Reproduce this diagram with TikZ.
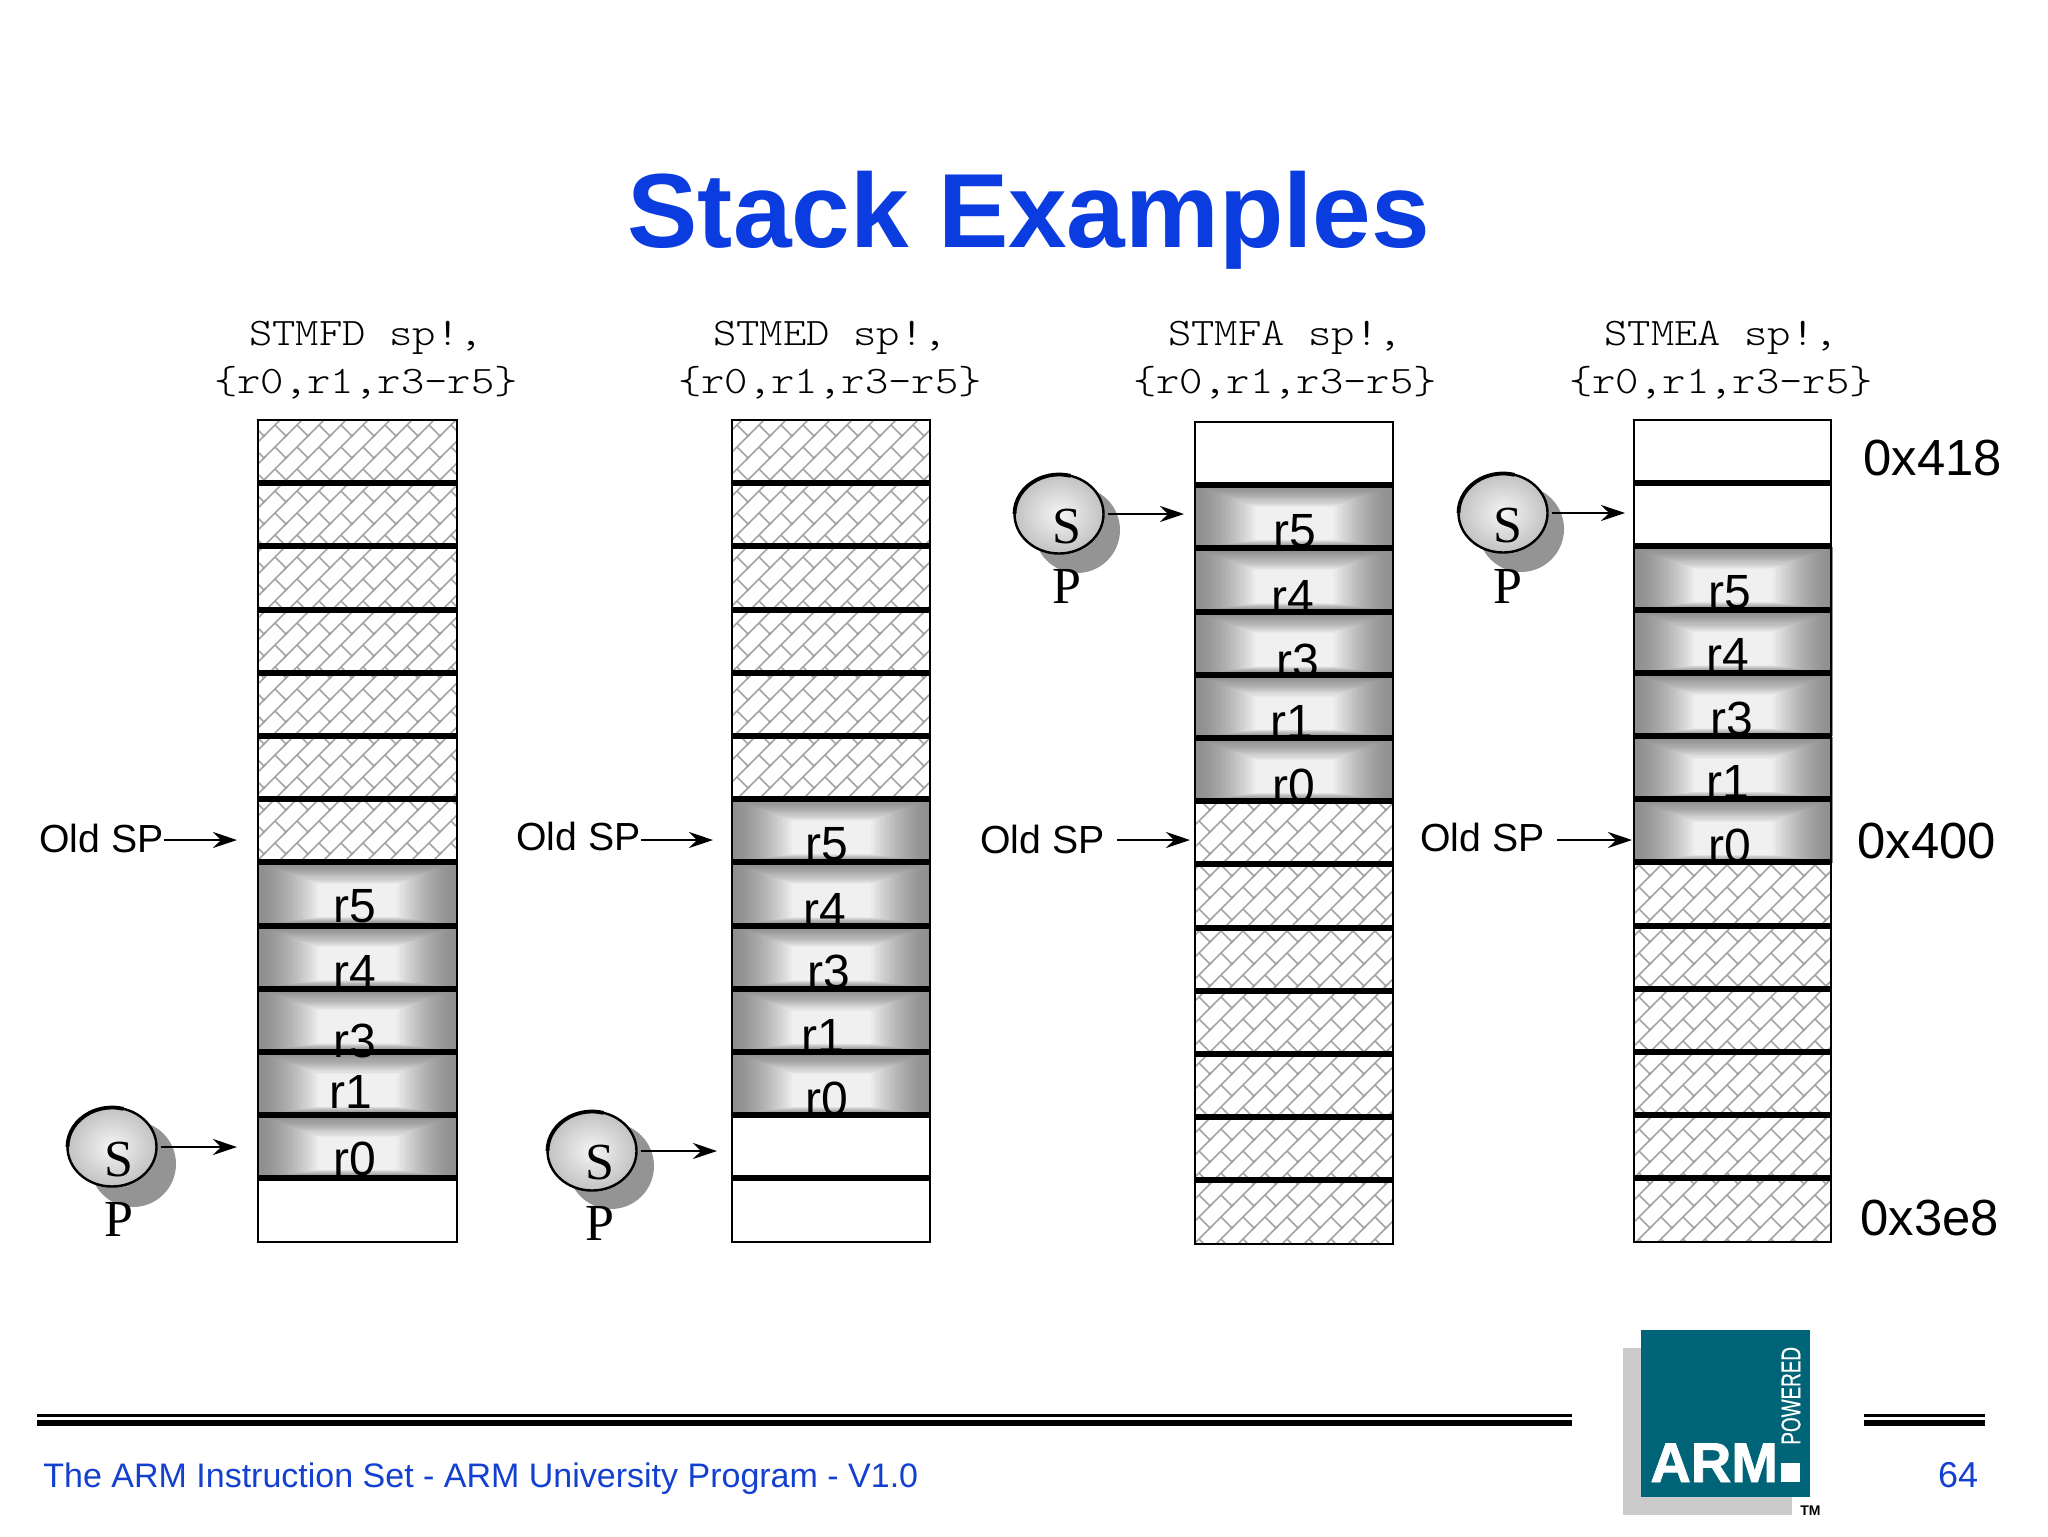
\documentclass[tikz,border=0pt]{standalone}
\usepackage{fontspec}
\setmainfont{Liberation Sans}
\setmonofont[FakeStretch=1.14]{Latin Modern Mono Light}
\newfontfamily\serifletter{Liberation Serif}
\usetikzlibrary{arrows.meta,patterns,shapes.geometric}
\definecolor{slideblue}{HTML}{0A3CE0}
\definecolor{footblue}{HTML}{1440D0}
\definecolor{armteal}{HTML}{006478}
\definecolor{armgray}{HTML}{CBCBCB}

\pgfdeclarepatternformonly{brickhatch}{\pgfpoint{-1pt}{-1pt}}{\pgfpoint{12pt}{12pt}}{\pgfpoint{11pt}{11pt}}{
    \pgfsetlinewidth{0.8pt}
    \pgfpathmoveto{\pgfpoint{-1pt}{-1pt}}
    \pgfpathlineto{\pgfpoint{12pt}{12pt}}
    \pgfpathmoveto{\pgfpoint{11pt}{0pt}}
    \pgfpathlineto{\pgfpoint{5.5pt}{5.5pt}}
    \pgfusepath{stroke}
}

\tikzset{
    hatchcell/.style={pattern=brickhatch, pattern color=black!36},
    frameline/.style={black, line width=1.4pt},
    sepline/.style={black, line width=3pt},
    ptrarrow/.style={->, line width=1pt, shorten <=2pt},
    ball/.style={ellipse, draw, line width=1.2pt, inner sep=0, outer sep=0,
        shade, inner color=black!4, outer color=black!24},
    ballrim/.style={line width=1.9pt},
    ballshadow/.style={fill=black!42},
    ltr/.style={inner sep=0, anchor=base, font=\serifletter\fontsize{26}{26}\selectfont},
    regname/.style={inner sep=0, anchor=base, font=\fontsize{24}{24}\selectfont},
    opcode/.style={inner sep=0, anchor=base, font=\ttfamily\fontsize{19.5}{20}\selectfont},
    oldsp/.style={inner sep=0, anchor=base west, font=\fontsize{19.6}{20}\selectfont},
    addr/.style={inner sep=0, anchor=base west, font=\fontsize{25.4}{26}\selectfont},
    foot/.style={inner sep=0, footblue, font=\fontsize{18}{20}\selectfont},
}

\newcommand{\regcell}[2]{%
    \foreach \k in {0,...,20}{%
        \pgfmathsetmacro{\shd}{44-38*(\k/20)^1.5}
        \fill[black!\shd] ({#1+3*\k},{#2+1.1*\k}) rectangle ({#1+199-3*\k},{#2+63-0.4*\k});
    }%
}

\begin{document}
\begin{tikzpicture}[x=0.5pt, y=-0.5pt, >={Stealth[length=12pt,width=8pt,inset=4pt]}]
    \useasboundingbox (0,0) rectangle (2048,1536);

    \node[inner sep=0, anchor=base, slideblue, font=\bfseries\fontsize{52.7}{56}\selectfont] (title) at (1029,247) {Stack Examples};

    % opcodes above the stacks
    \foreach \n/\cx/\opname in {1/364/STMFD, 2/828/STMED, 3/1283/STMFA, 4/1719/STMEA} {
        \node[opcode] (opa\n) at (\cx+2,345) {\opname{} sp!,};
        \node[opcode] (opb\n) at (\cx+2,393) {\{r0,r1,r3-r5\}};
    }

    % cell fills
    \path[hatchcell] (258,420) rectangle (457,862);
    \path[hatchcell] (732,420) rectangle (930,799);
    \path[hatchcell] (1195,801) rectangle (1393,1243);
    \path[hatchcell] (1634,862) rectangle (1831,1241);
    \foreach \cx/\cy in {258/862, 732/799, 1195/485, 1634/547} {
        \foreach \i in {0,...,4} {
            \regcell{\cx}{\cy+63.2*\i}
        }
    }

    % frames and separators
    \foreach \cx/\cy/\cw in {258/420/199, 732/420/198, 1195/422/198, 1634/420/197} {
        \draw[frameline] (\cx,\cy) rectangle (\cx+\cw,\cy+822);
        \foreach \i in {1,...,12} {
            \draw[sepline] (\cx,\cy+63.2*\i) -- (\cx+\cw,\cy+63.2*\i);
        }
    }

    % register names
    \node[regname] (ra5) at (355,922) {r5};
    \node[regname] (ra4) at (355,988) {r4};
    \node[regname] (ra3) at (355,1057) {r3};
    \node[regname] (ra1) at (351,1108) {r1};
    \node[regname] (ra0) at (355,1175) {r0};

    \node[regname] (rb5) at (827,860) {r5};
    \node[regname] (rb4) at (825,926) {r4};
    \node[regname] (rb3) at (829,988) {r3};
    \node[regname] (rb1) at (823,1052) {r1};
    \node[regname] (rb0) at (827,1115) {r0};

    \node[regname] (rc5) at (1295,547) {r5};
    \node[regname] (rc4) at (1293,613) {r4};
    \node[regname] (rc3) at (1298,677) {r3};
    \node[regname] (rc1) at (1292,738) {r1};
    \node[regname] (rc0) at (1294,802) {r0};

    \node[regname] (rd5) at (1730,608) {r5};
    \node[regname] (rd4) at (1728,671) {r4};
    \node[regname] (rd3) at (1732,735) {r3};
    \node[regname] (rd1) at (1728,798) {r1};
    \node[regname] (rd0) at (1730,862) {r0};

    % stack pointers
    \foreach \n/\bx/\by/\ex/\sx/\sy/\py/\dx/\dy in {
        1/112/1147/237/119/1176/1236/133/1164,
        2/592/1151/717/600/1179/1240/611/1166,
        3/1059/514/1184/1067/543/603/1077/530,
        4/1503/513/1625/1508/542/603/1521/529} {
        \fill[ballshadow] (\dx,\dy) circle (43);
        \node[ball, minimum width=44.5pt, minimum height=39.5pt] (sp\n) at (\bx,\by) {};
        \draw[ballrim] (sp\n.west) arc[start angle=180, end angle=285, x radius=44.5, y radius=39.5];
        \node[ltr] (sltr\n) at (\sx,\sy) {S};
        \node[ltr] (pltr\n) at (\sx,\py) {P};
        \coordinate (spend\n) at (\ex,\by);
        \draw[ptrarrow] (sp\n) -- (spend\n);
    }

    % old stack pointers
    \node[oldsp] (oldsp1) at (39,852) {Old SP};
    \node[oldsp] (oldsp2) at (516,850) {Old SP};
    \node[oldsp] (oldsp3) at (980,853) {Old SP};
    \node[oldsp] (oldsp4) at (1420,851) {Old SP};
    \coordinate (oldend1) at (237,840);
    \coordinate (oldend2) at (713,840);
    \coordinate (oldend3) at (1190,840);
    \coordinate (oldend4) at (1632,840);
    \draw[->, line width=1pt] (oldsp1.east |- oldend1) -- (oldend1);
    \draw[->, line width=1pt] (oldsp2.east |- oldend2) -- (oldend2);
    \draw[->, line width=1pt, shorten <=6pt] (oldsp3.east |- oldend3) -- (oldend3);
    \draw[->, line width=1pt, shorten <=6pt] (oldsp4.east |- oldend4) -- (oldend4);

    % addresses
    \node[addr] (addrtop) at (1863,475) {0x418};
    \node[addr] (addrmid) at (1857,858) {0x400};
    \node[addr] (addrlow) at (1860,1235) {0x3e8};

    % footer rules
    \fill (37,1414) rectangle (1572,1417);
    \fill (37,1420) rectangle (1572,1426);
    \fill (1864,1414) rectangle (1985,1417);
    \fill (1864,1420) rectangle (1985,1426);
    \node[foot, anchor=base west, font=\fontsize{17}{20}\selectfont] (foottext) at (43,1487) {The ARM Instruction Set - ARM University Program - V1.0};
    \node[foot, anchor=base] (pagenum) at (1958,1487) {64};

    % logo
    \fill[armgray] (1623,1348) rectangle (1792,1515);
    \fill[armteal] (1641,1330) rectangle (1810,1497);
    \node[inner sep=0, anchor=base west, white, font=\bfseries\addfontfeature{FakeBold=1.5}\fontsize{28}{29}\selectfont] (armword) at (1650,1482) {ARM};
    \fill[white] (1781,1463) rectangle (1800,1482);
    \node[inner sep=0, anchor=west, rotate=90, white, font=\addfontfeature{FakeBold=0.5}\fontsize{13.5}{14}\selectfont] (powered) at (1791,1445) {\scalebox{0.7}[1]{POWERED}};
    \node[inner sep=0, anchor=base west, font=\bfseries\fontsize{7}{8}\selectfont] (tmmark) at (1800,1515) {TM};
\end{tikzpicture}
\end{document}
